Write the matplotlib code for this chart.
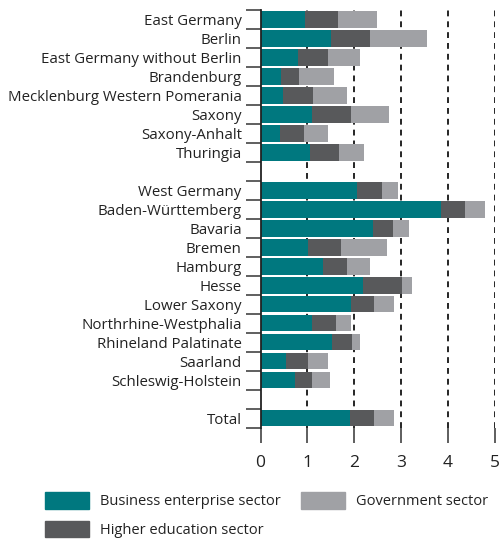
import matplotlib
matplotlib.use("Agg")
import matplotlib.pyplot as plt
from matplotlib.patches import Patch
import numpy as np

plt.rcParams['font.family'] = ['Open Sans', 'DejaVu Sans']

east_labels = ["East Germany", "Berlin", "East Germany without Berlin", "Brandenburg",
               "Mecklenburg Western Pomerania", "Saxony", "Saxony-Anhalt", "Thuringia"]
east_business = [0.94, 1.50, 0.79, 0.44, 0.48, 1.09, 0.41, 1.05]
east_higher = [0.71, 0.83, 0.64, 0.38, 0.63, 0.83, 0.51, 0.62]
east_government = [0.83, 1.23, 0.70, 0.74, 0.73, 0.81, 0.51, 0.53]

west_labels = ["West Germany", "Baden-Württemberg", "Bavaria", "Bremen", "Hamburg", "Hesse",
               "Lower Saxony", "Northrhine-Westphalia", "Rhineland Palatinate", "Saarland",
               "Schleswig-Holstein"]
west_business = [2.06, 3.84, 2.40, 1.01, 1.33, 2.18, 1.93, 1.09, 1.52, 0.54, 0.74]
west_higher = [0.52, 0.53, 0.42, 0.70, 0.51, 0.83, 0.50, 0.51, 0.44, 0.47, 0.35]
west_government = [0.36, 0.42, 0.34, 0.98, 0.49, 0.23, 0.41, 0.34, 0.17, 0.42, 0.39]

total_labels = ["Total"]
total_business = [1.90]
total_higher = [0.51]
total_government = [0.43]

series_names = ["Business enterprise sector", "Higher education sector", "Government sector"]
colors = ["#00787f", "#58595b", "#a0a1a5"]
x_ticks = [0, 1, 2, 3, 4, 5]

# assemble rows with gap rows between groups
groups = [
    (east_labels, east_business, east_higher, east_government),
    (west_labels, west_business, west_higher, west_government),
    (total_labels, total_business, total_higher, total_government),
]
labels, pos, bus, hig, gov = [], [], [], [], []
row = 0
for gi, (lb, b, h, g) in enumerate(groups):
    for j in range(len(lb)):
        labels.append(lb[j]); pos.append(row)
        bus.append(b[j]); hig.append(h[j]); gov.append(g[j])
        row += 1
    if gi < len(groups) - 1:
        row += 1
nrows = row
pos = np.array(pos); bus = np.array(bus); hig = np.array(hig); gov = np.array(gov)

fig = plt.figure(figsize=(5.04, 5.41), dpi=100)
W, H = 504, 541
ax = fig.add_axes([260.5 / W, 1 - 427.5 / H, 234.5 / W, 417.5 / H])

bh = 0.88
ax.barh(pos, bus, height=bh, color=colors[0], zorder=3, label=series_names[0])
ax.barh(pos, hig, left=bus, height=bh, color=colors[1], zorder=3, label=series_names[1])
ax.barh(pos, gov, left=bus + hig, height=bh, color=colors[2], zorder=3, label=series_names[2])

for xv in x_ticks[1:]:
    ax.axvline(xv, color="black", lw=1.2, ls=(0, (3.5, 3)), zorder=1)

ax.set_xlim(0, 5)
ax.set_ylim(nrows - 0.5, -0.5)

ax.set_yticks(pos)
ax.set_yticklabels(labels, fontsize=10.8, color="#222222")
ax.tick_params(axis="y", which="major", length=0, pad=13.5)
ax.set_yticks(np.arange(-0.5, nrows, 1.0), minor=True)
ax.tick_params(axis="y", which="minor", length=10.8, width=1.2, color="#444444", direction="out")

ax.set_xticks(x_ticks)
ax.set_xticklabels([str(v) for v in x_ticks], fontsize=12.5, color="#222222")
ax.tick_params(axis="x", length=10.8, width=1.1, color="#333333", direction="out", pad=9)

for s in ["top", "right", "bottom"]:
    ax.spines[s].set_visible(False)
ax.spines["left"].set_linewidth(1.3)
ax.spines["left"].set_color("#222222")
ax.spines["left"].set_zorder(4)

handles = [Patch(color=colors[0]), Patch(color=colors[1]), Patch(color=colors[2])]
fig.legend(handles, series_names, loc="upper left", bbox_to_anchor=(45 / W, 1 - 492 / H),
           ncol=2, frameon=False, fontsize=10.5, handlelength=3.0, handleheight=1.37,
           handletextpad=0.75, columnspacing=1.4, labelspacing=0.8, borderpad=0,
           borderaxespad=0, labelcolor="#222222")

fig.savefig("out.png", dpi=100)
